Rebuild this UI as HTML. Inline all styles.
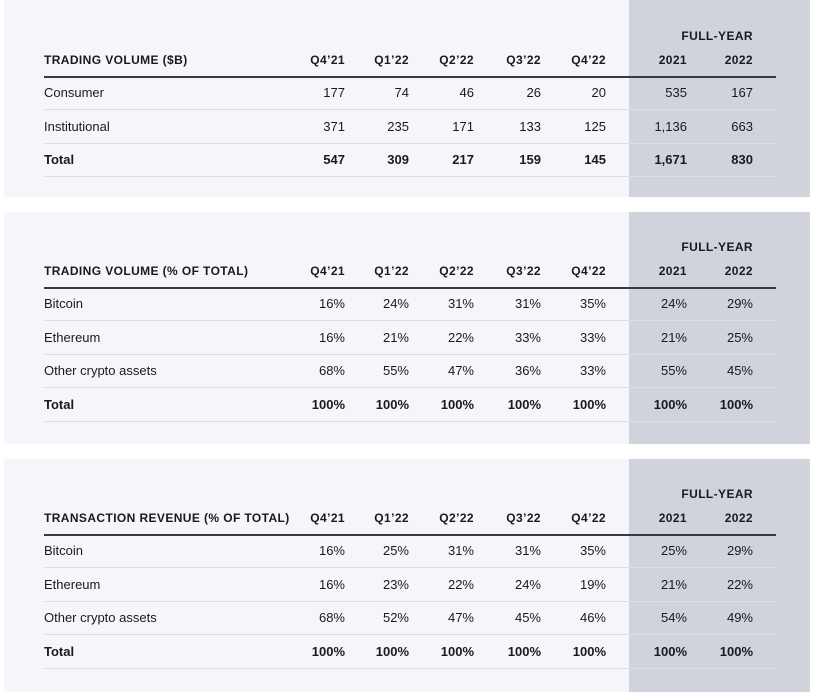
<!DOCTYPE html>
<html><head><style>
*{margin:0;padding:0;box-sizing:border-box}
body{width:814px;height:698px;background:#fff;position:relative;font-family:"Liberation Sans",sans-serif;color:#1a1a1a;overflow:hidden}
.p{position:absolute;left:4px;width:806px;background:#f5f6f9}
.g{position:absolute;left:629px;width:181px;background:#d0d2dc}
.t{position:absolute;font-size:13px;line-height:16px;white-space:nowrap}
.r{text-align:right;width:80px}
.b{font-weight:bold}
.h{font-weight:bold;font-size:12px;letter-spacing:0.4px}
.l{position:absolute;left:44px;width:732px;height:1px;background:#dcdde3}
.hl{position:absolute;left:44px;width:732px;height:2px;background:#3a3a3a}
</style></head><body>
<div class="p" style="top:0;height:197px"></div>
<div class="p" style="top:212px;height:232px"></div>
<div class="p" style="top:459px;height:233px"></div>
<div class="g" style="top:0;height:197px"></div>
<div class="g" style="top:212px;height:232px"></div>
<div class="g" style="top:459px;height:233px"></div>
<div id="c"></div>
<script>
const R=[345,409,474,541,606,687,753];
let h='';
function t(x,y,s,c){h+=`<div class="t ${c||''}" style="left:${x}px;top:${y-8}px">${s}</div>`}
function row(y,lab,vals,c){t(44,y,lab,c);vals.forEach((v,i)=>t(R[i]-80,y,v,'r '+(c||'')));}
function table(top,title,rows){
 t(753-80,top,'FULL-YEAR','r h');
 row(top+24,title,["Q4’21","Q1’22","Q2’22","Q3’22","Q4’22","2021","2022"],'h');
 h+=`<div class="hl" style="top:${top+40}px"></div>`;
 rows.forEach((r,i)=>{let y=top+57+i*33.6;row(y,r[0],r.slice(1),i==rows.length-1?'b':'');h+=`<div class="l" style="top:${Math.round(y+16)}px"></div>`});
}
table(36,'TRADING VOLUME ($B)',[
['Consumer','177','74','46','26','20','535','167'],
['Institutional','371','235','171','133','125','1,136','663'],
['Total','547','309','217','159','145','1,671','830']]);
table(247,'TRADING VOLUME (% OF TOTAL)',[
['Bitcoin','16%','24%','31%','31%','35%','24%','29%'],
['Ethereum','16%','21%','22%','33%','33%','21%','25%'],
['Other crypto assets','68%','55%','47%','36%','33%','55%','45%'],
['Total','100%','100%','100%','100%','100%','100%','100%']]);
table(494,'TRANSACTION REVENUE (% OF TOTAL)',[
['Bitcoin','16%','25%','31%','31%','35%','25%','29%'],
['Ethereum','16%','23%','22%','24%','19%','21%','22%'],
['Other crypto assets','68%','52%','47%','45%','46%','54%','49%'],
['Total','100%','100%','100%','100%','100%','100%','100%']]);
document.getElementById('c').innerHTML=h;
</script>
</body></html>
